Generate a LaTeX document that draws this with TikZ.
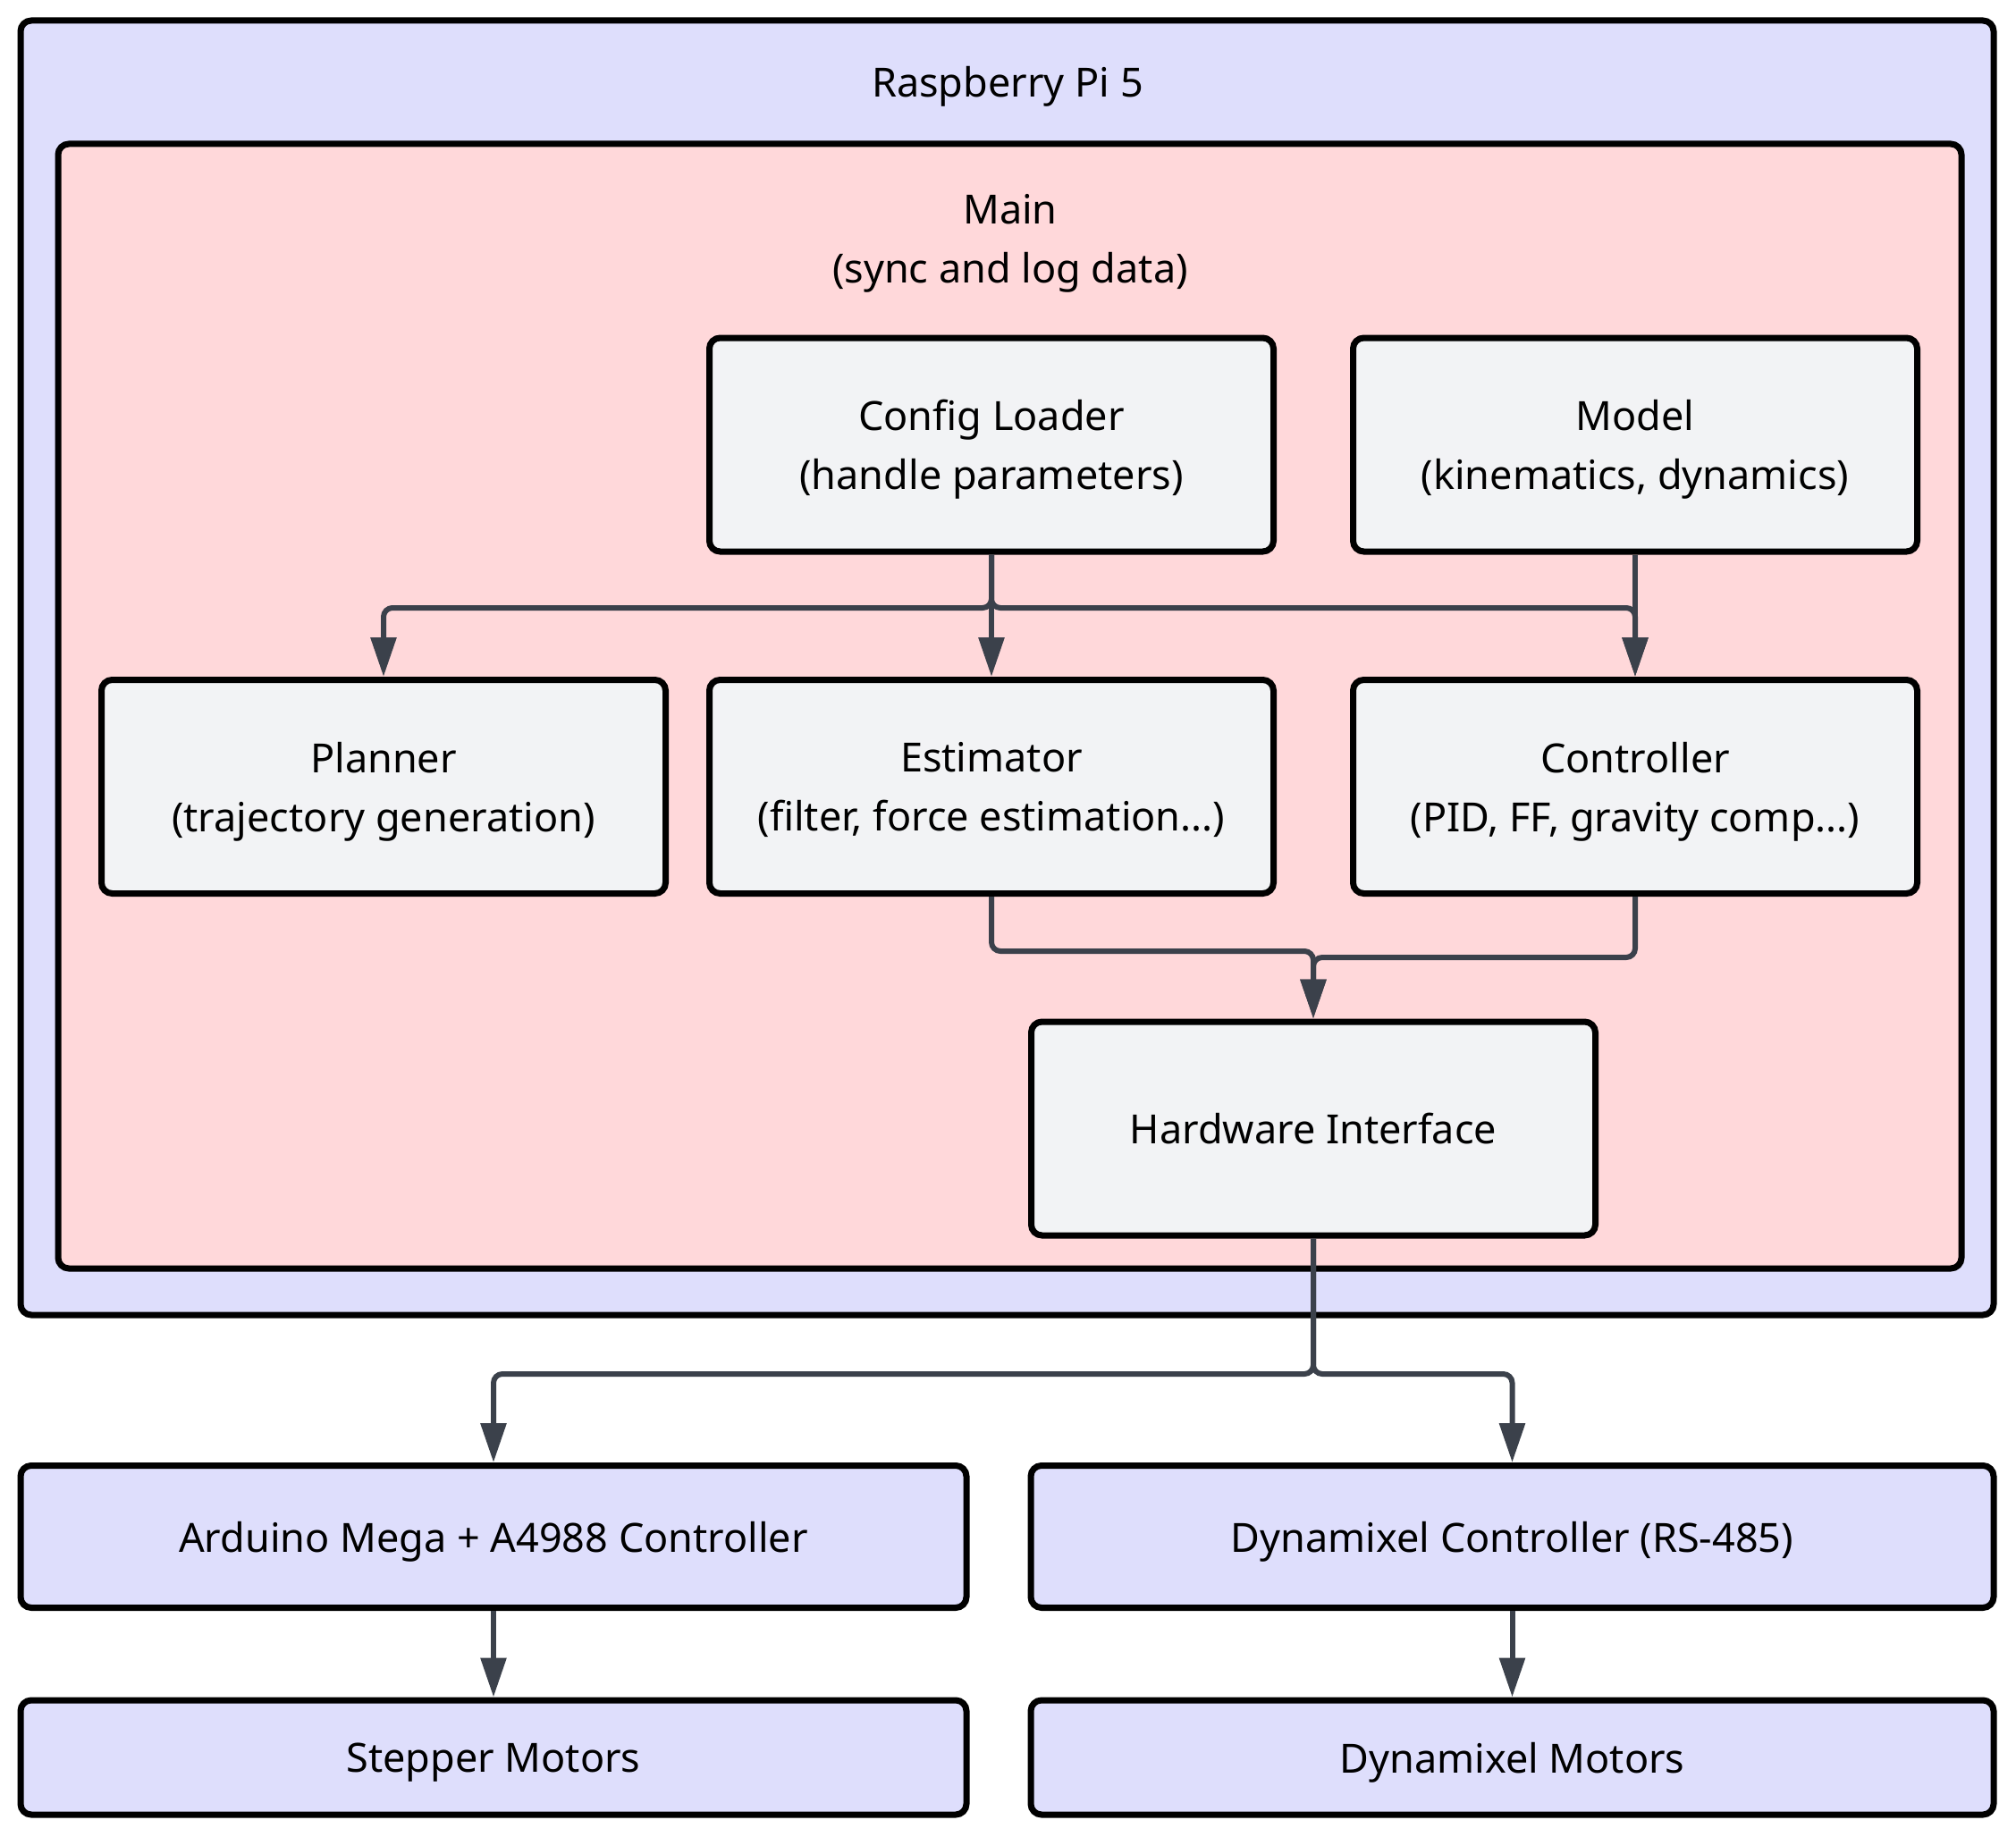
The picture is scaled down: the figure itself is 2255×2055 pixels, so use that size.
\documentclass[tikz,border=0pt]{standalone}
\usepackage{fontspec}
\setmainfont{Noto Sans}
\usetikzlibrary{positioning, arrows.meta, calc, backgrounds}
\definecolor{piFill}{RGB}{222,222,252}
\definecolor{mainFill}{RGB}{255,216,218}
\definecolor{modFill}{RGB}{242,243,245}
\definecolor{wireCol}{RGB}{59,65,75}
\tikzset{
  every node/.style={font=\fontsize{45}{66}\selectfont, align=center},
  B/.style={draw=black, line width=7pt, rounded corners=12pt, inner sep=0pt, text depth=0pt},
  MOD/.style={B, fill=modFill, minimum width=631pt, minimum height=239pt},
  DEV/.style={B, fill=piFill, minimum width=#1},
  AR/.style={-{Triangle[length=44pt, width=28pt]}, line width=6pt, draw=wireCol, rounded corners=10pt},
}

\begin{document}
\begin{tikzpicture}[x=1pt, y=1pt, yscale=-1]
\useasboundingbox (0,0) rectangle (2255,2055);

%% containers
\node[B, fill=piFill, minimum width=2207pt, minimum height=1448pt] (RPI) at (1126.5,747) {};
\node (rpilbl) at (1127,97) {Raspberry Pi 5};
\node[B, fill=mainFill, minimum width=2129pt, minimum height=1258pt] (MAIN) at (1129.5,790) {};
\node (mainlbl) at (1130,272) {Main\\(sync and log data)};

%% modules on the Pi
\node[MOD] (CFG)   at (1109,497.5) {Config Loader\\(handle parameters)};
\node[MOD] (MODEL) at (1829,497.5) {Model\\(kinematics, dynamics)};
\node[MOD] (PLAN)  at (429,880)    {Planner\\(trajectory generation)};
\node[MOD] (EST)   at (1109,880)   {Estimator\\(filter, force estimation...)};
\node[MOD] (CTRL)  at (1829,880)   {Controller\\(PID, FF, gravity comp...)};
\node[MOD] (HW)    at (1469,1262.5) {Hardware Interface};

%% hardware below
\node[DEV=1058pt, minimum height=159pt] (ARD)  at (552,1719)    {Arduino Mega + A4988 Controller};
\node[DEV=1077pt, minimum height=159pt] (DXC)  at (1691.5,1719) {Dynamixel Controller (RS-485)};
\node[DEV=1058pt, minimum height=128pt] (STEP) at (552,1966)    {Stepper Motors};
\node[DEV=1077pt, minimum height=128pt] (DXM)  at (1691.5,1966) {Dynamixel Motors};

%% connectors
\coordinate (cfgbus)  at (1109,680);
\coordinate (estbus)  at (1109,1064);
\coordinate (ctrlbus) at (1829,1071);
\coordinate (hwbus)   at (1469,1537);

\draw[AR] (CFG.south) -- (cfgbus) -| (PLAN.north);
\draw[AR] (CFG.south) -- (EST.north);
\draw[AR] (CFG.south) -- (cfgbus) -| (CTRL.north);
\draw[AR] (MODEL.south) -- (CTRL.north);
\draw[AR] (EST.south) -- (estbus) -| (HW.north);
\draw[AR] (CTRL.south) -- (ctrlbus) -| (HW.north);
\draw[AR] (HW.south) -- (hwbus) -| (ARD.north);
\draw[AR] (HW.south) -- (hwbus) -| (DXC.north);
\draw[AR] (ARD) -- (STEP);
\draw[AR] (DXC) -- (DXM);

\end{tikzpicture}
\end{document}
